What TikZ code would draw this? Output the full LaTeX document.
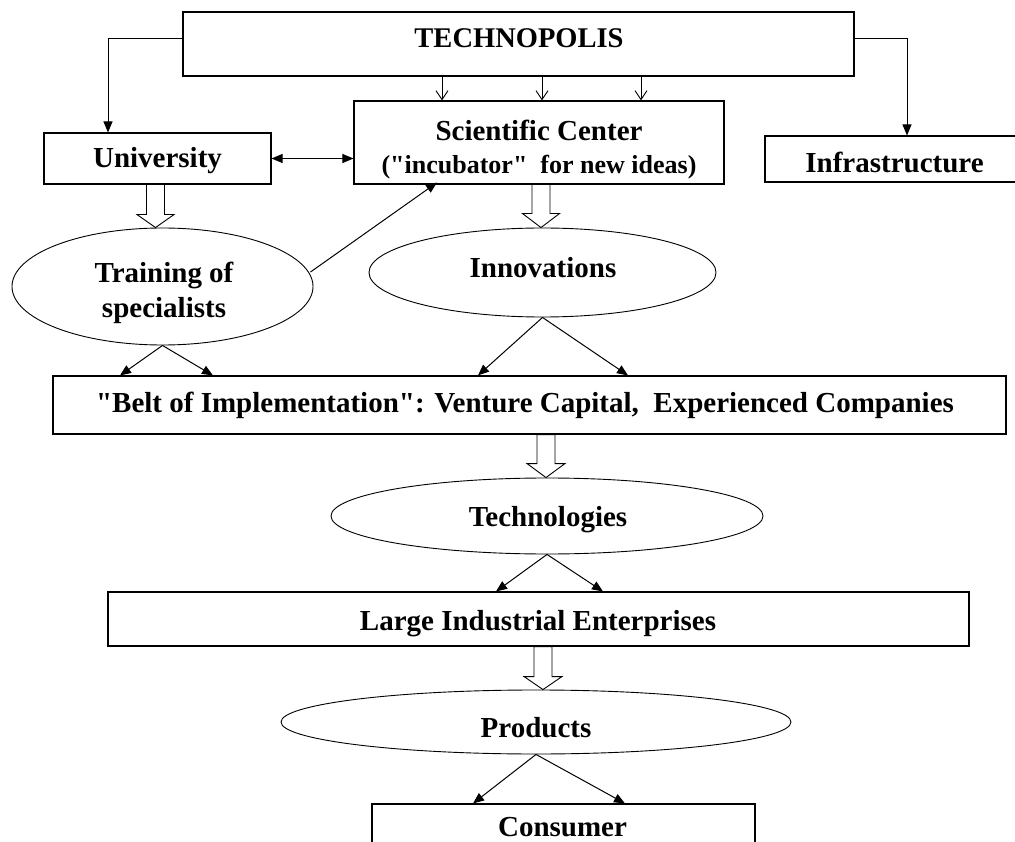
\documentclass[tikz,border=0pt]{standalone}
\usepackage{fontspec}
\setmainfont{Liberation Serif}[Ligatures=TeXOff]
\usetikzlibrary{shapes.geometric,arrows.meta,calc}
\begin{document}
\begin{tikzpicture}[x=1pt,y=-1pt,
  box/.style={draw,line width=1.1pt,rectangle,inner sep=0pt},
  oval/.style={draw,line width=0.9pt,ellipse,inner sep=0pt},
  lbl/.style={font=\fontsize{29}{35}\selectfont\bfseries,inner sep=0pt,anchor=base},
  arr/.style={line width=1pt,-{Triangle[length=11pt,width=9pt]}},
  darr/.style={line width=1pt,{Triangle[length=11pt,width=9pt]}-{Triangle[length=11pt,width=9pt]}},
  oarr/.style={line width=0.9pt,-{Straight Barb[length=9pt,width=12pt]}},
  hollow/.style={draw,line width=0.9pt,fill=white}]
\clip (0,0) rectangle (1015,842);
\fill[white] (0,0) rectangle (1015,842);
% boxes
\node[box,minimum width=671pt,minimum height=64pt] (tech) at (518.5,44) {};
\node[box,minimum width=227pt,minimum height=51pt] (uni) at (157.5,158.5) {};
\node[box,minimum width=370pt,minimum height=83pt] (sci) at (539,142.5) {};
\node[box,minimum width=284pt,minimum height=46pt] (infra) at (907,159) {};
\node[box,minimum width=953pt,minimum height=58pt] (belt) at (529.5,405) {};
\node[box,minimum width=861pt,minimum height=54pt] (large) at (538.5,619) {};
\node[box,minimum width=383pt,minimum height=60pt] (cons) at (563.5,834) {};
% ellipses
\node[oval,minimum width=301pt,minimum height=117pt] (train) at (162.5,286.5) {};
\node[oval,minimum width=347pt,minimum height=89pt] (innov) at (542.5,272.5) {};
\node[oval,minimum width=432pt,minimum height=76pt] (techn) at (547,516) {};
\node[oval,minimum width=510pt,minimum height=64pt] (prod) at (536,722) {};
% labels
\node[lbl,font=\fontsize{28.5}{34}\selectfont\bfseries] (techlbl) at (519,48) {TECHNOPOLIS};
\node[lbl] (unilbl) at (157.5,168) {University};
\node[lbl] (scilblA) at (539,140.5) {Scientific Center};
\node[lbl,font=\fontsize{26}{30}\selectfont\bfseries] (scilblB) at (539,174) {("incubator"\ \ for new ideas)};
\node[lbl] (infralbl) at (894.5,173) {Infrastructure};
\node[lbl] (trainlblA) at (164,283) {Training of};
\node[lbl] (trainlblB) at (164,318) {specialists};
\node[lbl] (innovlbl) at (543,278) {Innovations};
\node[lbl] (beltlbl) at (525,412) {"Belt of Implementation": Venture Capital,\ \ Experienced Companies};
\node[lbl] (technlbl) at (548,526.5) {Technologies};
\node[lbl] (largelbl) at (538,630) {Large Industrial Enterprises};
\node[lbl] (prodlbl) at (536,737.5) {Products};
\node[lbl] (conslbl) at (562.5,836.5) {Consumer};
% connectors from TECHNOPOLIS
\draw[arr] ([yshift=5pt]tech.west) -| ([xshift=-49.5pt]uni.north);
\draw[arr] ([yshift=5pt]tech.east) -| (infra.north);
\draw[oarr] ([xshift=-97pt]sci.north |- tech.south) -- ([xshift=-97pt]sci.north);
\draw[oarr] ([xshift=3pt]sci.north |- tech.south) -- ([xshift=3pt]sci.north);
\draw[oarr] ([xshift=102pt]sci.north |- tech.south) -- ([xshift=102pt]sci.north);
% university <-> scientific center
\draw[darr] (uni.east) -- (sci.west |- uni.east);
% training -> scientific center
\draw[arr] ($(train.center)+(148,-14.5)$) -- ([xshift=-102pt,yshift=2pt]sci.south);
% hollow arrows
\draw[hollow] ([xshift=-7pt]train.north) -- ++(-18.5,-13) -- ++(9.5,0) -- ($([xshift=-7pt]train.north |- uni.south)+(-9,0)$) -- ($([xshift=-7pt]train.north |- uni.south)+(9,0)$) -- ($([xshift=-7pt]train.north)+(9,-13)$) -- ++(9.5,0) -- cycle;
\draw[hollow] ([xshift=-1.5pt]innov.north) -- ++(-18.5,-14) -- ++(9.5,0) -- ($([xshift=-1.5pt]innov.north |- sci.south)+(-9,0)$) -- ($([xshift=-1.5pt]innov.north |- sci.south)+(9,0)$) -- ($([xshift=-1.5pt]innov.north)+(9,-14)$) -- ++(9.5,0) -- cycle;
\draw[hollow] ([xshift=-1pt]techn.north) -- ++(-19,-14) -- ++(10,0) -- ($([xshift=-1pt]techn.north |- belt.south)+(-9,0)$) -- ($([xshift=-1pt]techn.north |- belt.south)+(9,0)$) -- ($([xshift=-1pt]techn.north)+(9,-14)$) -- ++(10,0) -- cycle;
\draw[hollow] ([xshift=7pt]prod.north) -- ++(-19,-13) -- ++(10,0) -- ($([xshift=7pt]prod.north |- large.south)+(-9,0)$) -- ($([xshift=7pt]prod.north |- large.south)+(9,0)$) -- ($([xshift=7pt]prod.north)+(9,-13)$) -- ++(10,0) -- cycle;
% fan-out arrows
\draw[arr] (train.south) -- ($(belt.north -| train.south)+(-42.5,0)$);
\draw[arr] (train.south) -- ($(belt.north -| train.south)+(50.5,0)$);
\draw[arr] (innov.south) -- ($(belt.north -| innov.south)+(-64.5,0)$);
\draw[arr] (innov.south) -- ($(belt.north -| innov.south)+(85.5,0)$);
\draw[arr] (techn.south) -- ($(large.north -| techn.south)+(-51,0)$);
\draw[arr] (techn.south) -- ($(large.north -| techn.south)+(56,0)$);
\draw[arr] (prod.south) -- ($(cons.north -| prod.south)+(-63,0)$);
\draw[arr] (prod.south) -- ($(cons.north -| prod.south)+(89,0)$);
\end{tikzpicture}
\end{document}
